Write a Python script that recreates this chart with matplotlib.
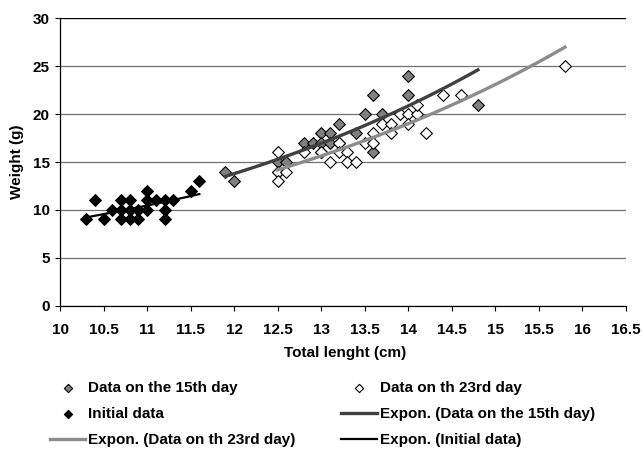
import numpy as np
import matplotlib.pyplot as plt

plt.rcParams['font.family'] = ['Liberation Sans', 'DejaVu Sans']
plt.rcParams['font.weight'] = 'bold'

# Initial data (black diamonds)
init_len = [10.3, 10.4, 10.5, 10.6, 10.7, 10.7, 10.7, 10.8, 10.8, 10.8, 10.9,
            10.9, 11.0, 11.0, 11.0, 11.1, 11.2, 11.2, 11.2, 11.3, 11.5, 11.6]
init_wt = [9, 11, 9, 10, 11, 10, 9, 11, 10, 9, 10,
           9, 12, 11, 10, 11, 11, 10, 9, 11, 12, 13]

# Data on the 15th day (grey diamonds)
d15_len = [11.9, 12.0, 12.5, 12.5, 12.6, 12.8, 12.9, 13.0, 13.0, 13.0, 13.1, 13.1,
           13.2, 13.2, 13.4, 13.5, 13.6, 13.6, 13.7, 14.0, 14.0, 14.8]
d15_wt = [14, 13, 14, 15, 15, 17, 17, 18, 16, 17, 18, 17,
          19, 17, 18, 20, 16, 22, 20, 24, 22, 21]

# Data on the 23rd day (white diamonds)
d23_len = [12.5, 12.5, 12.5, 12.6, 12.8, 13.0, 13.1, 13.2, 13.2, 13.3, 13.3, 13.4,
           13.5, 13.6, 13.6, 13.7, 13.8, 13.8, 13.9, 14.0, 14.0, 14.1, 14.1, 14.2,
           14.4, 14.6, 15.8]
d23_wt = [16, 14, 13, 14, 16, 16, 15, 17, 16, 16, 15, 15,
          17, 18, 17, 19, 19, 18, 20, 20, 19, 20, 21, 18,
          22, 22, 25]

x_ticks = ['10', '10.5', '11', '11.5', '12', '12.5', '13', '13.5',
           '14', '14.5', '15', '15.5', '16', '16.5']


def expon_fit(x, y):
    # same as an Excel exponential trendline: ln(y) = ln(a) + b*x
    x = np.asarray(x, float)
    b, lna = np.polyfit(x, np.log(y), 1)
    xs = np.linspace(x.min(), x.max(), 50)
    return xs, np.exp(lna) * np.exp(b * xs)


fig = plt.figure(figsize=(6.42, 4.5), dpi=100)
ax = fig.add_axes([0.0935, 0.3207, 0.8815, 0.6385])

ax.scatter(d15_len, d15_wt, marker='D', s=36, c='#808080', edgecolors='black',
           linewidths=0.8, zorder=3, label='Data on the 15th day')
ax.scatter(d23_len, d23_wt, marker='D', s=36, c='white', edgecolors='black',
           linewidths=0.8, zorder=3, label='Data on th 23rd day')
ax.scatter(init_len, init_wt, marker='D', s=36, c='black', edgecolors='black',
           linewidths=0.8, zorder=3, label='Initial data')

xs, ys = expon_fit(d15_len, d15_wt)
ax.plot(xs, ys, color='#404040', lw=2.4, zorder=4, label='Expon. (Data on the 15th day)')
xs, ys = expon_fit(d23_len, d23_wt)
ax.plot(xs, ys, color='#8c8c8c', lw=2.4, zorder=4, label='Expon. (Data on th 23rd day)')
xs, ys = expon_fit(init_len, init_wt)
ax.plot(xs, ys, color='black', lw=1.6, zorder=4, label='Expon. (Initial data)')

ax.set_xlim(10, 16.5)
ax.set_ylim(0, 30)
ax.set_xticks(np.arange(10, 16.51, 0.5))
ax.set_xticklabels(x_ticks)
ax.set_yticks(np.arange(0, 31, 5))
ax.tick_params(labelsize=11, length=3.5, width=0.8, color='black')
ax.tick_params(axis='x', pad=9)
ax.tick_params(axis='y', pad=4)
ax.yaxis.grid(True, color='#707070', lw=0.9)
ax.set_axisbelow(True)
for s in ['top', 'right']:
    ax.spines[s].set_visible(False)
ax.spines['left'].set_linewidth(0.9)
ax.spines['bottom'].set_linewidth(0.9)
ax.axhline(30, color='black', lw=0.9, zorder=1)

fig.text(345 / 642, 1 - 353 / 450, 'Total lenght (cm)', fontsize=11,
         fontweight='bold', ha='center', va='center')
fig.text(17 / 642, 1 - 162 / 450, 'Weight (g)', fontsize=11, rotation=90,
         fontweight='bold', ha='center', va='center')

handles, labels = ax.get_legend_handles_labels()
# row-major order like the original legend
order = [0, 2, 4, 1, 3, 5]
fig.legend([handles[i] for i in order], [labels[i] for i in order],
           ncol=2, loc='upper left', bbox_to_anchor=(50 / 642, 1 - 381 / 450),
           frameon=False, fontsize=11, handlelength=2.3, markerscale=0.7,
           columnspacing=3.0, handletextpad=0.2, labelspacing=0.8,
           borderpad=0, borderaxespad=0)

fig.savefig('out.png', dpi=100)
